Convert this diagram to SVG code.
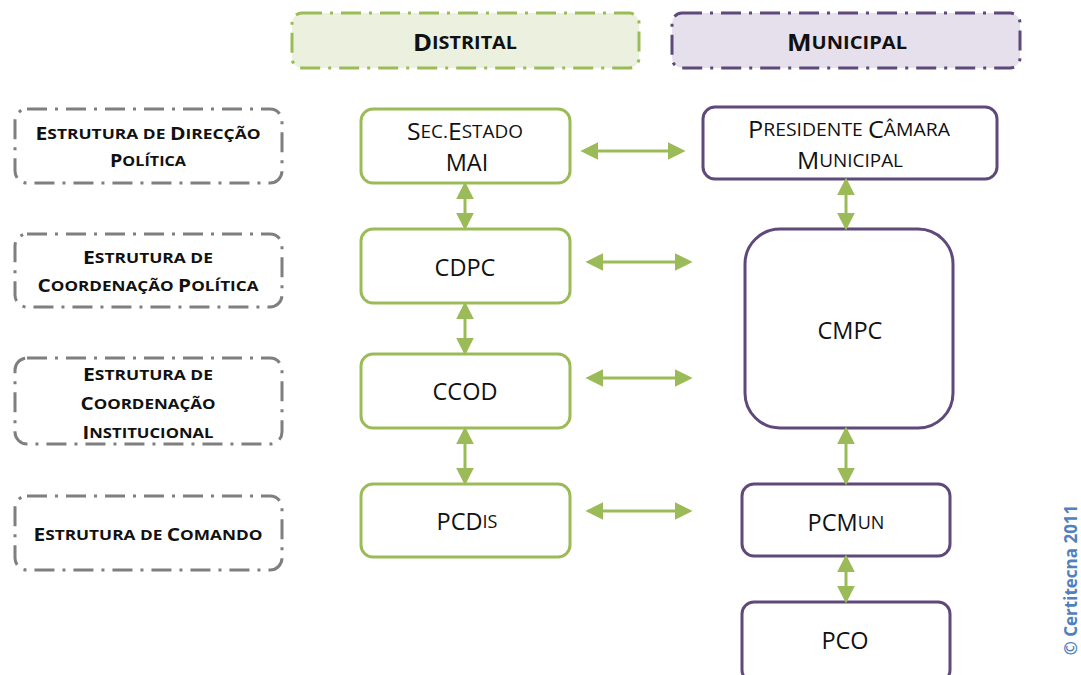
<svg xmlns="http://www.w3.org/2000/svg" width="1081" height="675" viewBox="0 0 1081 675">
  <style>
    text { font-family: "Open Sans", "Liberation Sans", sans-serif; text-anchor: middle; dominant-baseline: central; fill: #111; }
    .hdr { font-size: 24px; font-weight: bold; }
    .hdr .s { font-size: 18.5px; }
    .lbl { font-size: 17px; font-weight: bold; }
    .lbl .s { font-size: 14px; }
    .node { font-size: 23.5px; }
    .node .s { font-size: 18px; }
    .hdr-d { fill: #ebf1de; stroke: #9bbb59; stroke-width: 3; stroke-dasharray: 20 8 3 8; }
    .hdr-m { fill: #e5e0ec; stroke: #5f497a; stroke-width: 3; stroke-dasharray: 20 8 3 8; }
    .level { fill: #fff; stroke: #7f7f7f; stroke-width: 3; stroke-dasharray: 20 8 3 8; }
    .dist { fill: #fff; stroke: #9bbb59; stroke-width: 3; }
    .mun { fill: #fff; stroke: #5f497a; stroke-width: 3; }
    .conn line { stroke: #9bbb59; stroke-width: 3; marker-start: url(#head); marker-end: url(#head); }
  </style>
  <defs>
    <marker id="head" viewBox="0 0 10 10" refX="8" refY="5" markerWidth="6" markerHeight="6" orient="auto-start-reverse">
      <path d="M0,0 L10,5 L0,10 Z" fill="#9bbb59"/>
    </marker>
  </defs>
  <rect width="1081" height="675" fill="#fff"/>

  <!-- column headers -->
  <g id="hdr-distrital">
    <rect class="hdr-d" x="292" y="13" width="347" height="55" rx="10"/>
    <text class="hdr" x="465" y="41" textLength="104" lengthAdjust="spacingAndGlyphs">D<tspan class="s">ISTRITAL</tspan></text>
  </g>
  <g id="hdr-municipal">
    <rect class="hdr-m" x="672" y="13" width="348" height="55" rx="10"/>
    <text class="hdr" x="847" y="41" textLength="120" lengthAdjust="spacingAndGlyphs">M<tspan class="s">UNICIPAL</tspan></text>
  </g>

  <!-- level labels -->
  <g id="lvl-direccao">
    <rect class="level" x="15" y="109" width="267" height="74" rx="12"/>
    <text class="lbl" x="148" y="133" textLength="225" lengthAdjust="spacingAndGlyphs">E<tspan class="s">STRUTURA DE </tspan>D<tspan class="s">IRECÇÃO</tspan></text>
    <text class="lbl" x="148" y="160" textLength="76" lengthAdjust="spacingAndGlyphs">P<tspan class="s">OLÍTICA</tspan></text>
  </g>
  <g id="lvl-coord-politica">
    <rect class="level" x="15" y="234" width="267" height="73" rx="12"/>
    <text class="lbl" x="148" y="257" textLength="130" lengthAdjust="spacingAndGlyphs">E<tspan class="s">STRUTURA DE</tspan></text>
    <text class="lbl" x="148" y="285" textLength="221" lengthAdjust="spacingAndGlyphs">C<tspan class="s">OORDENAÇÃO </tspan>P<tspan class="s">OLÍTICA</tspan></text>
  </g>
  <g id="lvl-coord-inst">
    <rect class="level" x="15" y="358" width="267" height="86" rx="12"/>
    <text class="lbl" x="148" y="374" textLength="130" lengthAdjust="spacingAndGlyphs">E<tspan class="s">STRUTURA DE</tspan></text>
    <text class="lbl" x="148" y="403" textLength="135" lengthAdjust="spacingAndGlyphs">C<tspan class="s">OORDENAÇÃO</tspan></text>
    <text class="lbl" x="148" y="432" textLength="131" lengthAdjust="spacingAndGlyphs">I<tspan class="s">NSTITUCIONAL</tspan></text>
  </g>
  <g id="lvl-comando">
    <rect class="level" x="15" y="496" width="267" height="74" rx="12"/>
    <text class="lbl" x="148" y="534" textLength="229" lengthAdjust="spacingAndGlyphs">E<tspan class="s">STRUTURA DE </tspan>C<tspan class="s">OMANDO</tspan></text>
  </g>

  <!-- district nodes -->
  <g id="sec-estado">
    <rect class="dist" x="361" y="109" width="209" height="74" rx="12"/>
    <text class="node" x="465" y="131" textLength="116" lengthAdjust="spacingAndGlyphs">S<tspan class="s">EC.</tspan>E<tspan class="s">STADO</tspan></text>
    <text class="node" x="467" y="162">MAI</text>
  </g>
  <g id="cdpc">
    <rect class="dist" x="361" y="229" width="209" height="74" rx="12"/>
    <text class="node" x="465" y="267">CDPC</text>
  </g>
  <g id="ccod">
    <rect class="dist" x="361" y="354" width="209" height="74" rx="12"/>
    <text class="node" x="465" y="391">CCOD</text>
  </g>
  <g id="pcdis">
    <rect class="dist" x="361" y="484" width="209" height="73" rx="12"/>
    <text class="node" x="467" y="521">PCD<tspan class="s">IS</tspan></text>
  </g>

  <!-- municipal nodes -->
  <g id="presidente">
    <rect class="mun" x="703" y="107" width="294" height="72" rx="12"/>
    <text class="node" x="849" y="129" textLength="202" lengthAdjust="spacingAndGlyphs">P<tspan class="s">RESIDENTE </tspan>C<tspan class="s">ÂMARA</tspan></text>
    <text class="node" x="850" y="160" textLength="106" lengthAdjust="spacingAndGlyphs">M<tspan class="s">UNICIPAL</tspan></text>
  </g>
  <g id="cmpc">
    <rect class="mun" x="745" y="229" width="208" height="199" rx="35"/>
    <text class="node" x="850" y="330">CMPC</text>
  </g>
  <g id="pcmun">
    <rect class="mun" x="742" y="484" width="208" height="72" rx="12"/>
    <text class="node" x="846" y="522">PCM<tspan class="s">UN</tspan></text>
  </g>
  <g id="pco">
    <rect class="mun" x="742" y="602" width="208" height="80" rx="12"/>
    <text class="node" x="845" y="640">PCO</text>
  </g>

  <!-- connectors -->
  <g id="connectors" class="conn">
    <line x1="584" y1="151" x2="682" y2="151"/>
    <line x1="589" y1="262" x2="689" y2="262"/>
    <line x1="589" y1="378" x2="689" y2="378"/>
    <line x1="589" y1="511" x2="689" y2="511"/>
    <line x1="465" y1="185" x2="465" y2="227"/>
    <line x1="465" y1="305" x2="465" y2="352"/>
    <line x1="465" y1="430" x2="465" y2="482"/>
    <line x1="846" y1="181" x2="846" y2="227"/>
    <line x1="846" y1="430" x2="846" y2="482"/>
    <line x1="846" y1="558" x2="846" y2="600"/>
  </g>

  <text x="1070" y="580" transform="rotate(-90 1070 580)" style="font-size: 17px; font-weight: bold; fill: #4f81bd;">© Certitecna 2011</text>
</svg>
